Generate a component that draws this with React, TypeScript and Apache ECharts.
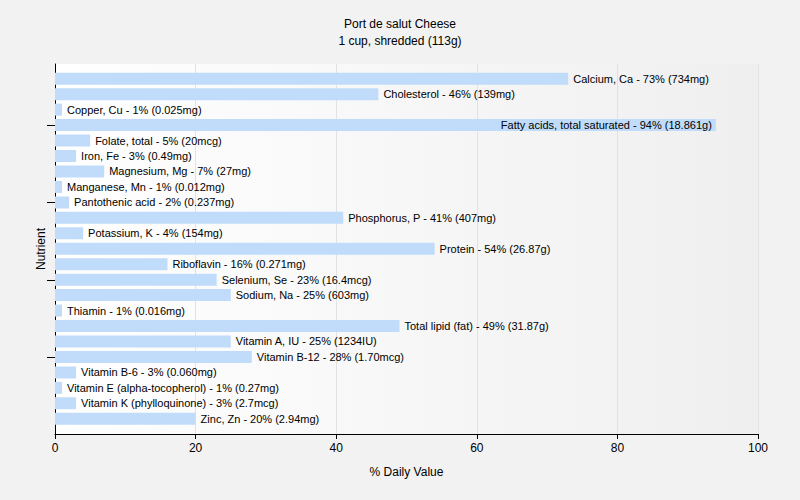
import React, { useEffect, useRef } from "react";
import * as echarts from "echarts";

const nutrients = [
  "Calcium, Ca",
  "Cholesterol",
  "Copper, Cu",
  "Fatty acids, total saturated",
  "Folate, total",
  "Iron, Fe",
  "Magnesium, Mg",
  "Manganese, Mn",
  "Pantothenic acid",
  "Phosphorus, P",
  "Potassium, K",
  "Protein",
  "Riboflavin",
  "Selenium, Se",
  "Sodium, Na",
  "Thiamin",
  "Total lipid (fat)",
  "Vitamin A, IU",
  "Vitamin B-12",
  "Vitamin B-6",
  "Vitamin E (alpha-tocopherol)",
  "Vitamin K (phylloquinone)",
  "Zinc, Zn",
];

const dailyValues = [73, 46, 1, 94, 5, 3, 7, 1, 2, 41, 4, 54, 16, 23, 25, 1, 49, 25, 28, 3, 1, 3, 20];

const amounts = [
  "734mg", "139mg", "0.025mg", "18.861g", "20mcg", "0.49mg", "27mg", "0.012mg",
  "0.237mg", "407mg", "154mg", "26.87g", "0.271mg", "16.4mcg", "603mg", "0.016mg",
  "31.87g", "1234IU", "1.70mcg", "0.060mg", "0.27mg", "2.7mcg", "2.94mg",
];

const xTicks = [0, 20, 40, 60, 80, 100];
const yTickIndices = [3, 8, 13, 18];

const FONT = "'Liberation Sans', Arial, sans-serif";

export default function App() {
  const ref = useRef<HTMLDivElement>(null);

  useEffect(() => {
    if (!ref.current) return;
    const chart = echarts.init(ref.current, undefined, { renderer: "svg" });
    const n = nutrients.length;
    const option: any = {
      animation: false,
      backgroundColor: "#f2f2f2",
      textStyle: { fontFamily: FONT },
      title: {
        text: "Port de salut Cheese\n1 cup, shredded (113g)",
        left: "center",
        top: 10,
        textStyle: { fontFamily: FONT, fontSize: 12, fontWeight: "normal", color: "#000", lineHeight: 17 },
      },
      grid: [
        {
          left: 55, right: 42, top: 64, bottom: 66,
          show: true,
          borderWidth: 0,
          backgroundColor: new echarts.graphic.LinearGradient(0, 0, 1, 0, [
            { offset: 0, color: "#ffffff" },
            { offset: 1, color: "#efefef" },
          ]),
        },
        { left: 55, right: 42, top: 71, bottom: 73.5 },
      ],
      xAxis: [
        {
          gridIndex: 0,
          type: "value",
          min: 0,
          max: 100,
          interval: 20,
          name: "% Daily Value",
          nameLocation: "middle",
          nameGap: 32,
          nameTextStyle: { fontFamily: FONT, fontSize: 12, color: "#000" },
          axisLine: { show: true, onZero: false, lineStyle: { color: "#000", width: 1 } },
          axisTick: { show: true, length: 5, lineStyle: { color: "#000" } },
          axisLabel: { fontFamily: FONT, fontSize: 12, color: "#000", margin: 8 },
          splitLine: { show: true, lineStyle: { color: "#e2e2e2", width: 1 } },
        },
        {
          gridIndex: 1,
          type: "value",
          min: xTicks[0],
          max: xTicks[xTicks.length - 1],
          show: false,
        },
      ],
      yAxis: [
        {
          gridIndex: 0,
          type: "value",
          inverse: true,
          min: -0.96,
          max: n - 1 + 0.96,
          name: "Nutrient",
          nameLocation: "middle",
          nameGap: 8,
          nameRotate: 90,
          nameTextStyle: { fontFamily: FONT, fontSize: 12, color: "#000" },
          axisLine: { show: true, onZero: false, lineStyle: { color: "#000", width: 1 } },
          axisTick: { show: true, length: 8, customValues: yTickIndices, lineStyle: { color: "#000" } },
          axisLabel: { show: false },
          splitLine: { show: false },
        },
        {
          gridIndex: 1,
          type: "category",
          inverse: true,
          data: nutrients,
          show: false,
        },
      ],
      series: [
        {
          type: "bar",
          xAxisIndex: 1,
          yAxisIndex: 1,
          barWidth: 12,
          itemStyle: { color: "#c0dcfa" },
          data: dailyValues.map((v, i) => {
            const inside = v > 80;
            return {
              value: v,
              label: {
                show: true,
                position: inside ? "insideRight" : "right",
                distance: inside ? 4 : 5,
                formatter: `${nutrients[i]} - ${v}% (${amounts[i]})`,
                fontFamily: FONT,
                fontSize: 11,
                color: "#000",
              },
            };
          }),
        },
      ],
    };
    chart.setOption(option);
    return () => chart.dispose();
  }, []);

  return <div ref={ref} style={{ width: 800, height: 500, position: "absolute", left: 0, top: 0 }} />;
}
